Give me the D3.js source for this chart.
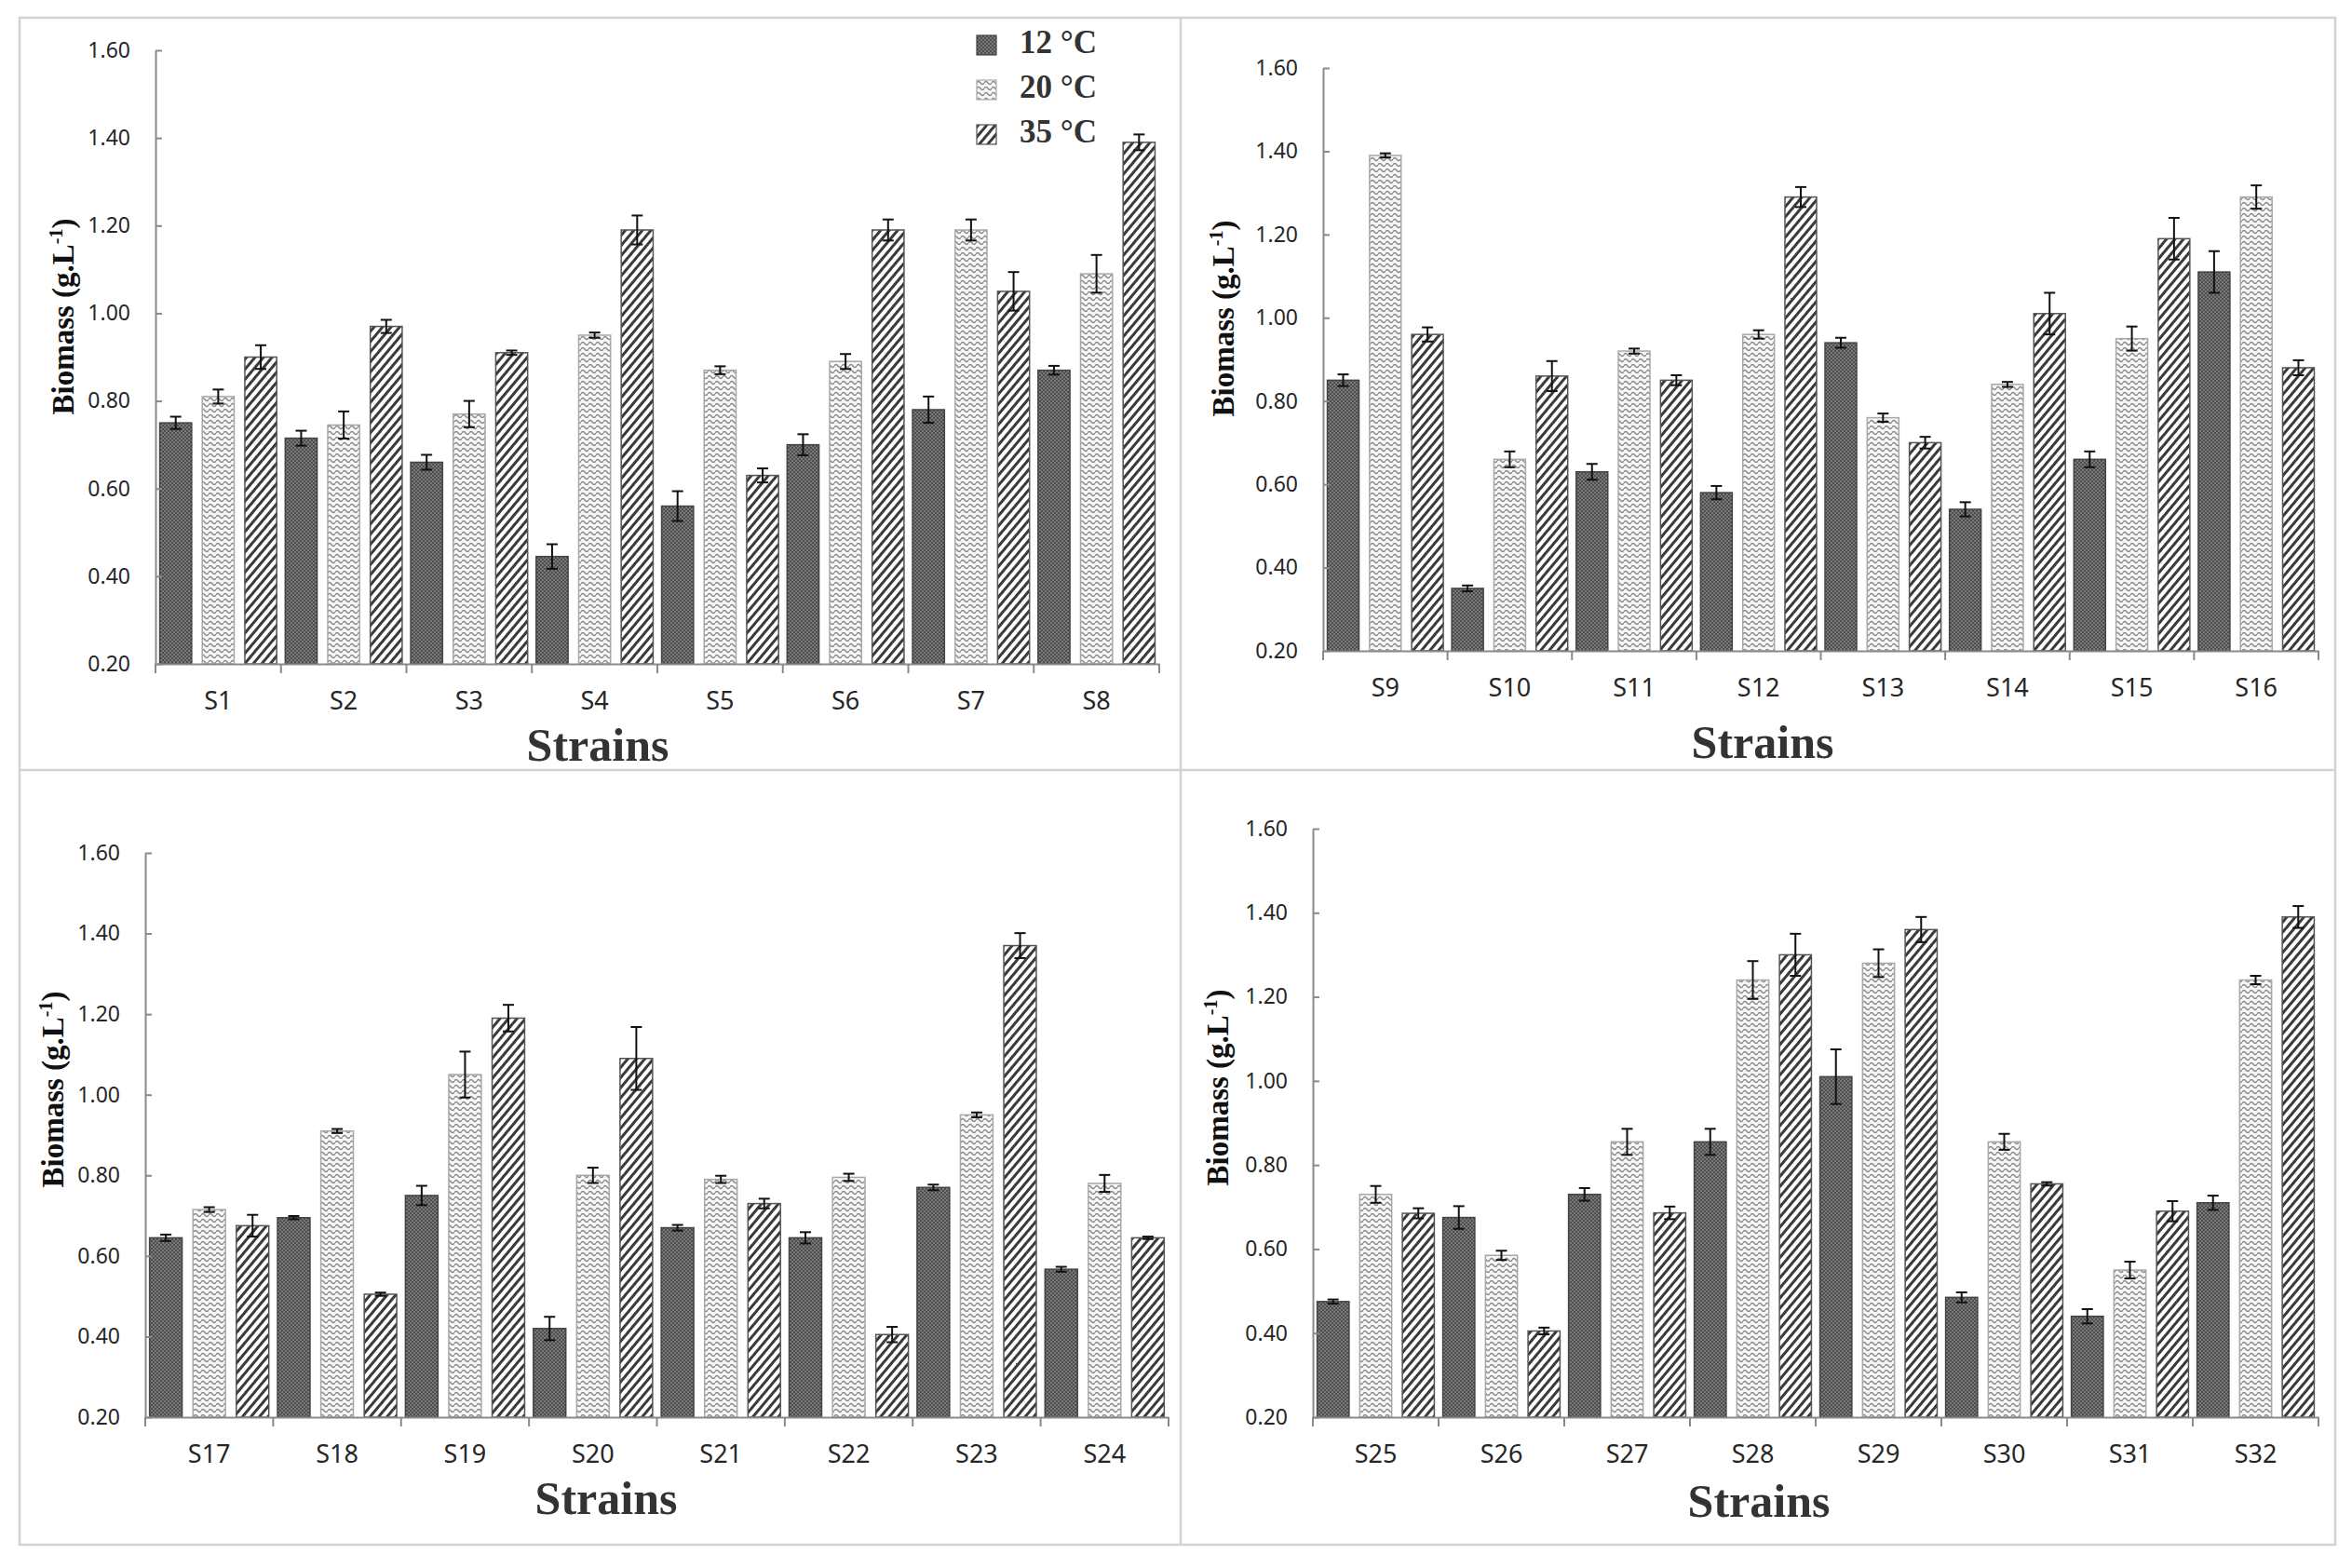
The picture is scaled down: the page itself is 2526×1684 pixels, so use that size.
<!DOCTYPE html>
<html>
<head>
<meta charset="utf-8">
<script src="https://cdn.jsdelivr.net/npm/d3@7"></script>
<style>
  body { margin: 0; background: #fff; }
  svg { display: block; }
  .tick text { font-family: "Noto Sans", "Liberation Sans", sans-serif; fill: #262626; }
</style>
</head>
<body>
<div id="chart"></div>
<script>
// temperatures (series)
const temps = ['12 °C', '20 °C', '35 °C'];
const yTicks = [0.20, 0.40, 0.60, 0.80, 1.00, 1.20, 1.40, 1.60];

// panel 1
const strains1 = ['S1', 'S2', 'S3', 'S4', 'S5', 'S6', 'S7', 'S8'];
const p1_12 = [0.75, 0.715, 0.66, 0.445, 0.56, 0.70, 0.78, 0.87];
const p1_20 = [0.81, 0.745, 0.77, 0.95, 0.87, 0.89, 1.19, 1.09];
const p1_35 = [0.90, 0.97, 0.91, 1.19, 0.63, 1.19, 1.05, 1.39];
const p1_e12 = [0.014, 0.017, 0.017, 0.028, 0.034, 0.024, 0.03, 0.01];
const p1_e20 = [0.016, 0.031, 0.03, 0.006, 0.009, 0.017, 0.024, 0.043];
const p1_e35 = [0.027, 0.015, 0.005, 0.033, 0.016, 0.024, 0.044, 0.018];

// panel 2
const strains2 = ['S9', 'S10', 'S11', 'S12', 'S13', 'S14', 'S15', 'S16'];
const p2_12 = [0.85, 0.35, 0.63, 0.58, 0.94, 0.54, 0.66, 1.11];
const p2_20 = [1.39, 0.66, 0.92, 0.96, 0.76, 0.84, 0.95, 1.29];
const p2_35 = [0.96, 0.86, 0.85, 1.29, 0.70, 1.01, 1.19, 0.88];
const p2_e12 = [0.014, 0.007, 0.019, 0.016, 0.012, 0.017, 0.019, 0.05];
const p2_e20 = [0.005, 0.019, 0.006, 0.01, 0.01, 0.006, 0.029, 0.028];
const p2_e35 = [0.017, 0.036, 0.012, 0.024, 0.014, 0.05, 0.05, 0.018];

// panel 3
const strains3 = ['S17', 'S18', 'S19', 'S20', 'S21', 'S22', 'S23', 'S24'];
const p3_12 = [0.645, 0.695, 0.75, 0.42, 0.67, 0.645, 0.77, 0.567];
const p3_20 = [0.715, 0.91, 1.05, 0.80, 0.79, 0.795, 0.95, 0.78];
const p3_35 = [0.675, 0.505, 1.19, 1.09, 0.73, 0.405, 1.37, 0.645];
const p3_e12 = [0.008, 0.004, 0.024, 0.029, 0.007, 0.014, 0.007, 0.006];
const p3_e20 = [0.006, 0.005, 0.057, 0.019, 0.009, 0.009, 0.006, 0.021];
const p3_e35 = [0.027, 0.004, 0.033, 0.078, 0.012, 0.019, 0.031, 0.003];

// panel 4
const strains4 = ['S25', 'S26', 'S27', 'S28', 'S29', 'S30', 'S31', 'S32'];
const p4_12 = [0.475, 0.675, 0.73, 0.855, 1.01, 0.485, 0.44, 0.71];
const p4_20 = [0.73, 0.585, 0.855, 1.24, 1.28, 0.855, 0.55, 1.24];
const p4_35 = [0.685, 0.405, 0.686, 1.30, 1.36, 0.755, 0.69, 1.39];
const p4_e12 = [0.005, 0.027, 0.015, 0.031, 0.065, 0.012, 0.017, 0.017];
const p4_e20 = [0.02, 0.011, 0.031, 0.045, 0.033, 0.019, 0.02, 0.01];
const p4_e35 = [0.012, 0.008, 0.015, 0.05, 0.03, 0.004, 0.024, 0.026];

// where each panel sits on the page
const panels = [
  { strains: strains1, vals: [p1_12, p1_20, p1_35], errs: [p1_e12, p1_e20, p1_e35],
    x0: 167, x1: 1245, yTop: 54, yBase: 713, sx: 642, sy: 817, lx: 79, ly: 340, legend: true },
  { strains: strains2, vals: [p2_12, p2_20, p2_35], errs: [p2_e12, p2_e20, p2_e35],
    x0: 1421, x1: 2490, yTop: 73, yBase: 699, sx: 1893, sy: 814, lx: 1325, ly: 342 },
  { strains: strains3, vals: [p3_12, p3_20, p3_35], errs: [p3_e12, p3_e20, p3_e35],
    x0: 156, x1: 1255, yTop: 916, yBase: 1522, sx: 651, sy: 1626, lx: 68, ly: 1170 },
  { strains: strains4, vals: [p4_12, p4_20, p4_35], errs: [p4_e12, p4_e20, p4_e35],
    x0: 1410, x1: 2490, yTop: 890, yBase: 1522, sx: 1889, sy: 1629, lx: 1319, ly: 1168 }
];

const W = 2526, H = 1684;
const svg = d3.select('#chart').append('svg')
    .attr('width', W)
    .attr('height', H);

svg.append('rect').attr('width', W).attr('height', H).attr('fill', '#fff');

// fill patterns for the three temperatures
const defs = svg.append('defs');

const pDots = defs.append('pattern').attr('id', 'pat0')
    .attr('patternUnits', 'userSpaceOnUse').attr('width', 4).attr('height', 4);
pDots.append('rect').attr('width', 4).attr('height', 4).attr('fill', '#4d4d4d');
pDots.append('circle').attr('cx', 1).attr('cy', 1).attr('r', 0.9).attr('fill', '#8e8e8e');
pDots.append('circle').attr('cx', 3).attr('cy', 3).attr('r', 0.9).attr('fill', '#8e8e8e');

const pWave = defs.append('pattern').attr('id', 'pat1')
    .attr('patternUnits', 'userSpaceOnUse').attr('width', 8).attr('height', 6);
pWave.append('rect').attr('width', 8).attr('height', 6).attr('fill', '#f7f7f7');
pWave.append('path').attr('d', 'M0 3 Q2 0 4 3 T8 3')
    .attr('fill', 'none').attr('stroke', '#8a8a8a').attr('stroke-width', 1.4);

const pStripe = defs.append('pattern').attr('id', 'pat2')
    .attr('patternUnits', 'userSpaceOnUse').attr('width', 7).attr('height', 7)
    .attr('patternTransform', 'rotate(40)');
pStripe.append('rect').attr('width', 7).attr('height', 7).attr('fill', '#fff');
pStripe.append('rect').attr('width', 3).attr('height', 7).attr('fill', '#3a3a3a');

const barStroke = ['#444', '#a8a8a8', '#555'];

// frame and dividers
const frame = '#d2d2d2';
svg.append('rect')
    .attr('x', 21).attr('y', 19).attr('width', 2487).attr('height', 1640)
    .attr('fill', 'none').attr('stroke', frame).attr('stroke-width', 2.5);
svg.append('line').attr('x1', 1268).attr('x2', 1268).attr('y1', 19).attr('y2', 1659)
    .attr('stroke', frame).attr('stroke-width', 2.5);
svg.append('line').attr('x1', 21).attr('x2', 2508).attr('y1', 827).attr('y2', 827)
    .attr('stroke', frame).attr('stroke-width', 2.5);

panels.forEach(p => {
  const g = svg.append('g');

  const x = d3.scaleBand()
      .domain(p.strains)
      .range([p.x0, p.x1])
      .paddingInner(0).paddingOuter(0);
  const xs = d3.scaleBand()
      .domain(d3.range(temps.length))
      .range([0, x.bandwidth()])
      .paddingInner(0.25).paddingOuter(0.1);
  const y = d3.scaleLinear()
      .domain([0.2, 1.6])
      .range([p.yBase, p.yTop]);

  // bars
  p.vals.forEach((vals, k) => {
    g.append('g').selectAll('rect')
        .data(p.strains)
        .join('rect')
        .attr('x', (s) => x(s) + xs(k))
        .attr('y', (s, i) => y(vals[i]))
        .attr('width', xs.bandwidth())
        .attr('height', (s, i) => y(0.2) - y(vals[i]))
        .attr('fill', `url(#pat${k})`)
        .attr('stroke', barStroke[k])
        .attr('stroke-width', 1.5);
  });

  // error bars
  p.vals.forEach((vals, k) => {
    const eg = g.append('g').attr('stroke', '#111').attr('stroke-width', 2);
    p.strains.forEach((s, i) => {
      const cx = x(s) + xs(k) + xs.bandwidth() / 2;
      const hi = y(vals[i] + p.errs[k][i]);
      const lo = y(vals[i] - p.errs[k][i]);
      eg.append('line').attr('x1', cx).attr('x2', cx).attr('y1', hi).attr('y2', lo);
      eg.append('line').attr('x1', cx - 6).attr('x2', cx + 6).attr('y1', hi).attr('y2', hi);
      eg.append('line').attr('x1', cx - 6).attr('x2', cx + 6).attr('y1', lo).attr('y2', lo);
    });
  });

  // y axis, ticks pointing inwards
  const yAxis = g.append('g')
      .attr('transform', `translate(${p.x0},0)`)
      .call(d3.axisLeft(y)
          .tickValues(yTicks)
          .tickFormat(d3.format('.2f'))
          .tickSizeInner(-7)
          .tickSizeOuter(0)
          .tickPadding(27));
  yAxis.selectAll('.domain, .tick line').attr('stroke', '#8a8a8a').attr('stroke-width', 2);
  yAxis.selectAll('.tick text').attr('font-size', 23);

  // x axis: labels under band centres, ticks on the band edges
  const xAxis = g.append('g')
      .attr('transform', `translate(0,${p.yBase})`)
      .call(d3.axisBottom(x).tickSize(0).tickPadding(30).tickSizeOuter(0));
  xAxis.select('.domain').attr('stroke', '#8a8a8a').attr('stroke-width', 2);
  xAxis.selectAll('.tick text').attr('font-size', 27);

  const edges = p.strains.map(s => x(s)).concat([p.x1]);
  g.append('g').selectAll('line')
      .data(edges)
      .join('line')
      .attr('x1', d => d).attr('x2', d => d)
      .attr('y1', p.yBase).attr('y2', p.yBase + 10)
      .attr('stroke', '#8a8a8a').attr('stroke-width', 2);

  // axis titles
  g.append('text')
      .attr('x', p.sx).attr('y', p.sy)
      .attr('text-anchor', 'middle')
      .attr('font-family', '"Liberation Serif", "Times New Roman", serif')
      .attr('font-weight', 'bold')
      .attr('font-size', 50)
      .attr('fill', '#333')
      .text('Strains');

  const yl = g.append('text')
      .attr('transform', `translate(${p.lx},${p.ly}) rotate(-90)`)
      .attr('text-anchor', 'middle')
      .attr('font-family', '"Liberation Serif", "Times New Roman", serif')
      .attr('font-weight', 'bold')
      .attr('font-size', 33)
      .attr('fill', '#111');
  yl.append('tspan').text('Biomass (g.L');
  yl.append('tspan').attr('font-size', 20).attr('dy', -12).text('-1');
  yl.append('tspan').attr('dy', 12).text(')');

  // legend (first panel only)
  if (p.legend) {
    const lg = g.append('g').attr('transform', 'translate(1049,38)');
    temps.forEach((t, k) => {
      const row = lg.append('g').attr('transform', `translate(0,${k * 48})`);
      row.append('rect')
          .attr('width', 21).attr('height', 21)
          .attr('fill', `url(#pat${k})`)
          .attr('stroke', barStroke[k]).attr('stroke-width', 1.2);
      row.append('text')
          .attr('x', 46).attr('y', 19)
          .attr('font-family', '"Liberation Serif", "Times New Roman", serif')
          .attr('font-weight', 'bold')
          .attr('font-size', 35)
          .attr('fill', '#333')
          .text(t);
    });
  }
});
</script>
</body>
</html>
